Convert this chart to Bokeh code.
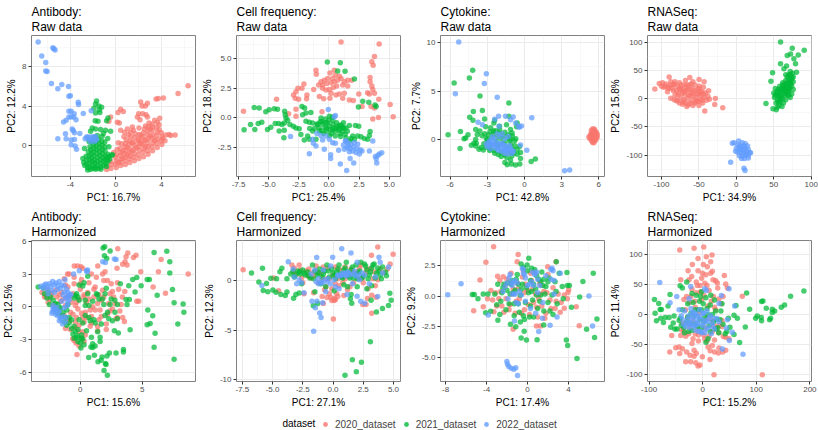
from bokeh.embed import file_html
from bokeh.resources import INLINE
from bokeh.plotting import figure
from bokeh.layouts import column, row
from bokeh.models import FixedTicker, Title, Legend, LegendItem, Range1d, Label

series_names = ["2020_dataset", "2021_dataset", "2022_dataset"]
series_colors = ["#F8766D", "#00BA38", "#619CFF"]

# ---- Antibody raw
ab_raw_2020 = [(6.33,6.07),(5.45,5.3),(4.16,4.83),(3.72,4.77),(3.52,4.73),(2.17,4.43),(2.76,4.3),(2.29,4.03),(2.58,4.03),(.41,3.7),(.18,3.37),(.65,3.47),(2,3.23),(2.35,3.23),(2.64,3.13),(1.88,2.9),(-.47,2.9),(-.62,2.47),(.12,2.37),(.29,2.3),(2.11,2.63),(2.76,2.9),(3.84,2.77),(3.4,2.57),(3.64,2.37),(2.9,2.3),(3.78,2.13),(1.44,1.9),(2.02,1.8),(1,1.7),(1.52,1.57),(.41,1.57),(.76,1.37),(1.29,1.37),(4.66,1.13),(5.19,1.07),(4.37,1.07),(4.81,1.03),
(-.82,-2.41),(-.75,-2.1),(-.44,-2.32),(-.38,-1.92),(-.46,-1.61),(.03,-2.22),(-.04,-1.87),(.05,-1.52),(-.06,-1.18),(.04,-.92),(.42,-2.02),(.37,-1.71),(.44,-1.38),(.38,-1.03),(.41,-.72),(.36,-.28),(.82,-1.91),(.78,-1.52),(.83,-1.19),(.76,-.83),(.81,-.48),(.79,-.12),(.84,.21),(1.21,-1.72),(1.17,-1.36),(1.24,-1.08),(1.18,-.71),(1.22,-.33),(1.16,.13),(1.23,.48),(1.62,-1.53),(1.57,-1.18),(1.63,-.82),(1.58,-.42),(1.61,.03),(1.56,.38),(1.64,.82),(2.02,-1.31),(1.97,-.92),(2.04,-.48),(1.98,-.12),(2.03,.32),(1.96,.71),(2.05,1.13),(2.42,-1.12),(2.37,-.68),(2.44,-.31),(2.38,.12),(2.43,.52),(2.36,.88),(2.41,1.31),(2.82,-.87),(2.77,-.52),(2.84,-.08),(2.78,.33),(2.83,.71),(2.76,1.12),(2.81,1.52),(2.86,1.92),(3.21,-.52),(3.16,-.12),(3.23,.28),(3.18,.72),(3.24,1.08),(3.17,1.53),(3.22,1.88),(3.62,-.18),(3.57,.22),(3.64,.61),(3.58,1.02),(3.63,1.38),(3.56,1.83),(4.02,.12),(3.97,.48),(4.04,.92),(3.98,1.31),(.2,-1.68),(.6,-1.28),(1.0,-.92),(1.4,-.58),(1.8,-.21),(2.2,.18),(2.6,.58),(3.0,.98),(.6,-.58),(1.0,-.18),(1.4,.28),(2.2,1.02),(2.6,-.12),(3.4,.52),
(2.5,1.7),(3,1.7),(1.7,1.2),(2,.5),(1.3,.9),(.9,.6),(.5,.2),(.1,-.4),(-.2,-.7),(4.3,.5),(4.1,.7),(3.8,1.6),(3.2,2.2),(2.6,2),(.2,.3),(.7,.9),(1.1,1.1)]
ab_raw_2021 = [(-1.7,4.53),(-1.79,4.23),(-1.5,4.03),(-1.26,3.9),(-1.94,3.8),(-1.47,3.63),(-1.41,3.37),(-1.79,3.3),(-.7,2.8),(-.82,2.53),(-1.82,2.53),(-1.58,2.47),(-2.08,1.8),(-1.79,1.7),(-1.35,1.63),(-.91,1.57),(-2.23,1.47),(-.47,1.47),
(-2.9,-1.3),(-2.82,-1.72),(-2.74,-2.02),(-2.48,-2.48),(-2.62,-1.08),(-2.58,-1.48),(-2.55,-1.88),(-2.48,-2.21),(-2.76,-.28),(-2.42,-.62),(-2.36,-1.02),(-2.33,-1.42),(-2.31,-1.78),(-2.28,-2.18),(-2.25,-2.42),(-2.36,.42),(-2.28,-.12),(-2.2,-.42),(-2.16,-.82),(-2.14,-1.22),(-2.08,-1.62),(-2.04,-1.98),(-2.02,-2.32),(-2.1,.38),(-1.98,.08),(-1.94,-.28),(-1.96,-.68),(-1.92,-1.08),(-1.88,-1.48),(-1.84,-1.82),(-1.82,-2.22),(-1.78,-2.4),(-1.9,.82),(-1.74,.42),(-1.72,.02),(-1.7,-.38),(-1.68,-.78),(-1.64,-1.18),(-1.62,-1.58),(-1.6,-1.98),(-1.56,-2.32),(-1.64,1.02),(-1.52,.62),(-1.48,.18),(-1.46,-.22),(-1.44,-.62),(-1.4,-1.02),(-1.38,-1.42),(-1.36,-1.82),(-1.32,-2.18),(-1.32,-2.4),(-1.22,.92),(-1.24,.42),(-1.22,.02),(-1.2,-.42),(-1.18,-.82),(-1.14,-1.22),(-1.12,-1.62),(-1.08,-2.02),(-.98,.38),(-.98,-.12),(-.96,-.52),(-.94,-1.02),(-.92,-1.42),(-.88,-1.82),(-.84,-2.12),(-.78,-1.22),(-.7,-.88),(-.72,-1.58),(-.62,-1.12),(-.56,-1.38),(-.4,-.98),(-.3,-.92),(-.72,.72),(-1.1,1.22),(-.62,-.12)]
ab_raw_2022 = [(-6.83,10.5),(-6.51,9.1),(-5.54,9.93),(-5.45,9.83),(-5.34,9.7),(-6.16,8.43),(-6.16,7.57),(-6.04,7.53),(-5.66,6.3),(-4.75,6.2),(-5.1,5.77),(-4.16,6.0),(-4.13,5.0),(-4.0,5.07),(-3.31,4.4),(-3.28,4.17),(-4.13,3.5),(-3.93,3.5),(-2.87,3.27),(-2.17,3.53),(-3.67,3.23),(-4.13,2.9),(-3.93,2.9),(-3.7,2.9),(-4.37,2.57),(-4.6,2.4),(-3.5,2.63),(-3.84,1.7),(-3.75,1.53),(-4.43,1.2),(-3.64,1.3),(-3.17,1.23),(-5.1,.7),(-4.37,.7),(-3.93,.57),(-3.64,.63),(-3.93,.1),(-3.58,-.03),(-3.46,-.37),(-2.58,.87),(-2.46,.87),(-2.23,.87),(-2,.9),(-1.79,.93),(-2.38,.63),(-2.08,.63),(-1.7,.63),(-2.7,.7),(-2.2,.4),(-1.85,.45)]

# ---- Cell frequency raw
cf_raw_2020 = [(1,6.43),(4.16,6.27),(3.77,5.21),(3.55,4.76),(3.66,4.46),(-1.08,4.04),(-1.05,3.7),(.08,3.82),(.44,4.04),(.53,3.62),(.86,3.54),(.3,3.34),(-.11,3.34),(-.39,3.2),(-.66,3.06),(-.86,2.79),(-.53,2.79),(-.19,2.92),(.17,2.98),(.44,3.06),(.72,3.2),(1,3.34),(1.27,3.06),(1.55,3.2),(1.88,3.2),(-2.08,2.87),(-2.24,2.51),(-2.58,2.51),(-2.74,2.23),(-2.94,1.95),(-2.8,1.67),(-2.52,1.59),(-1.83,1.95),(-1.86,1.62),(-1.27,2.42),(-.53,2.51),(-.25,2.37),(.03,2.42),(.36,2.59),(.64,2.7),(1.14,2.79),(1.55,2.7),(.17,2.09),(.58,1.95),(.86,2.03),(1.27,2.09),(-.8,1.81),(-.44,1.62),(.08,1.67),(1.14,1.67),(1.69,1.53),(2.02,1.48),(2.47,2.03),(3.2,2.14),(3.35,2.03),(3.41,3.43),(3.41,3.06),(3.55,2.7),(3.63,2.42),(3.77,2.09),(-4.35,1.59),(-7.09,.58),(-2.74,.75),(-3.35,.36),(-2.74,.14),(-.58,.53),(4.13,1.59),(5.07,1.14),(5.32,.11),(4.1,.03),(3.63,-.08),(2.74,.97),(3.49,.97),(3.77,.84)]
cf_raw_2021 = [(-.14,4.74),(.94,4.68),(.72,3.98),(1.33,3.96),(2.11,3.31),(2.8,1.42),(3.3,1.34),(3.82,1.11),(3.91,.97),(2.44,.92),(-2.24,.97),(-2.02,.84),(-6.2,.89),(-5.79,.84),(-5.24,.53),(-4.96,.7),(-4.54,.78),(-4.27,.75),(-7.04,-1),(-6.51,-.56),(-6.15,-.97),(-5.87,-.47),(-5.57,-.36),(-5.1,-.97),(-4.82,-.78),(-4.46,-.47),(-4.18,-.47),(-3.9,-.56),(-3.68,.58),(-3.63,.28),(-3.57,0),(-3.43,-.2),(-3.71,-.42),(-3.24,-.56),(-2.96,-.7),(-2.74,-.84),(-2.47,-.92),(-2.19,.28),(-1.91,-.28),(-1.63,-.36),(-1.36,-.42),(-1.91,.42),(-1.5,.47),(-3.74,-1.67),(-3.71,-1.03),(-4.13,-1.11),(-2.33,-1.39),(-2.05,-1.87),(-1.77,-1.53),(-1.63,-1.81),(-1.08,-1.81),(-1.36,-1.11),(-.94,-.56),(-.66,0),(-.3,-.08),(.03,.14),(.3,.08),
(-.82,-.82),(-.61,-1.08),(-.52,-.52),(-.33,-.78),(-.21,-1.12),(-.12,-.42),(.02,-.68),(.11,-.98),(.21,-1.31),(.33,-.55),(.41,-.83),(.52,-1.12),(.63,-.41),(.71,-.72),(.82,-1.02),(.92,-1.33),(1.02,-.6),(1.13,-1.12),(1.22,-.82),(1.33,-1.38),(1.52,-1.12),(.31,-.22),(-.45,-1.31),(.05,-1.48),(.52,-1.52),(.96,-1.58),(-.73,-.31),(1.83,-1.75),(2.11,-1.81),(2.38,-1.53),(2.66,-1.59),(2.94,-1.75),(3.21,-1.81),(3.35,-1.48),(3.41,-1.14),(1.69,-1.95),(1.41,-1.67),(1.97,-1.53),(2.47,-.7),(2.19,-.64),(1.69,-.64),(1.41,-.84),(1.14,-.84),(.86,-.64),
(-.6,-.3),(-.3,-.4),(0,-.2),(.3,-1),(.6,-.9),(-1,-.5),(-1.2,-.9),(-.2,-.9),(-.8,-1.1),(.9,-.9),(1.2,-.4),(-1.6,-.9)]
cf_raw_2022 = [(-3.19,-1.56),(-.06,.72),(.53,.22),(.44,.08),(-1.36,-1.81),(-1.3,-2.14),(-1,-1.31),(-.66,-1.48),(-.53,-1.87),(-.39,-2.65),(-1.08,-2.37),(-1.63,-3.04),(.14,-3.12),(.14,-3.43),(.94,-3.9),(1.47,-4.46),(1.75,-3.43),(2.05,-3.82),(.8,-2.73),(1.27,-2.65),(.03,-1.81),(.3,-2.09),(.53,-2.14),(-.25,-1.53),(1.41,-1.95),(1.63,-2.37),(1.83,-2.23),(2.11,-2.09),(2.38,-2.23),(1.69,-2.87),(1.97,-2.79),(2.24,-2.92),(2.52,-3.06),(2.74,-2.79),(2.58,-2.7),(3.35,-2.79),(3.63,-1.95),(3.85,-3.26),(4.07,-3.15),(4.18,-3.06),(4.38,-2.95),(3.96,-3.82),(3.92,-3.45),(1.36,-1.95),(1.55,-2.09),(1.75,-2.6),(2.05,-2.45),(1.5,-2.5),(2.3,-2.6),(1.2,-2.3)]

# ---- Cytokine raw
cy_raw_2020 = [(5.52,1.12),(5.65,1.08),(5.4,.98),(5.58,.92),(5.72,.88),(5.82,.72),(5.46,.78),(5.62,.7),(5.36,.6),(5.52,.58),(5.74,.55),(5.88,.52),(5.3,.42),(5.48,.4),(5.64,.38),(5.8,.34),(5.2,.28),(5.38,.22),(5.56,.2),(5.72,.16),(5.86,.22),(5.28,.12),(5.46,.05),(5.62,.02),(5.76,.03),(5.4,-.08),(5.55,-.14),(5.68,-.1),(5.5,-.28),(5.6,-.3)]
cy_raw_2021 = [(-4.18,7.13),(-4.45,6.35),(-5.68,5.84),(-3.59,4.49),(-1.26,3.78),(-3.4,3.0),(-4.13,2.9),(-4.42,2.3),(-4.16,2),(-1.26,2.4),(-6.17,.5),(-5.17,.84),(-4.56,.5),(-4.75,.17),(-4.88,.1),(-5.2,-.91),(-4.29,-.57),(-3.94,1.05),(-3.81,.54),(-3.94,.03),(-3.89,-.37),(-4.08,-.37),(-3.94,-.64),(-3.67,-.98),(-3.32,-1.05),(-3.22,2.13),(-3.14,1.32),(-2.73,1.22),(-2.41,1.99),(-2.47,1.72),(-2.01,1.39),(-1.45,1.55),(-1.13,1.05),(-.64,1.32),(-.59,1.72),(.88,-1.99),(.54,-2.23),(-.32,-1.93),(-.38,-2.5),(-.72,-2.6),(-1.05,-2.5),(-1.39,-2.57),(-1.58,-2.33),(-1.13,-2.09),(-.32,-1.32),(-.59,-1.49),(-.86,-1.39),
(-3.42,.42),(-3.21,.62),(-3.08,.12),(-2.92,.48),(-2.78,.82),(-2.62,.22),(-2.48,.58),(-2.32,.92),(-2.18,.31),(-2.02,.68),(-1.88,.12),(-1.72,.42),(-1.58,.78),(-1.42,.21),(-1.28,.5),(-1.12,.08),(-.98,.38),(-3.28,-.42),(-3.12,-.78),(-2.92,-.22),(-2.78,-.92),(-2.62,-.48),(-2.45,-1.12),(-2.28,-.18),(-2.12,-.72),(-1.92,-1.28),(-1.75,-.42),(-1.62,-1.58),(-1.42,-.82),(-1.25,-1.32),(-1.1,-.52),(-.92,-1.02),(-.78,-.62),(-2.12,-1.52),(-1.88,-1.72),(-1.42,-1.82),(-1.02,-1.68),
(-3,0),(-2.5,.9),(-2.9,-.5),(-3.5,-.8),(-2,1),(-1.6,-.3),(-1.2,-.1),(-1,.7),(-.8,-.1),(-.6,-1),(-.4,-.7),(-3.6,.9),(-2.2,-.6),(-2.4,-1.4),(-1.5,-1.1),(-2.8,-1.1),(-.7,.1)]
cy_raw_2022 = [(-5.31,10.03),(-3.08,6.79),(-3.24,5.78),(-5.58,4.73),(-2.2,4.36),(-2.09,2.4),(-1.53,2.4),(-.91,2.33),(.59,2.26),(-3.75,1.79),(-3.4,1.55),(-2.4,2.1),(-1.13,2.06),(-.72,1.72),(-.46,1.39),(-.24,1.42),(-.42,1.28),(-.32,-.54),(.19,-1.08),(3.24,-3.18),(3.65,-3.11),(-2.06,1.39),(-2.2,.61),(-1.8,.61),
(-3.08,-.42),(-3.02,-.72),(-2.88,-.28),(-2.82,-.62),(-2.72,-.92),(-2.58,-.12),(-2.52,-.52),(-2.42,.12),(-2.32,-.82),(-2.22,-.28),(-2.12,-1.08),(-2.05,-.52),(-1.92,-.82),(-1.88,-1.18),(-1.78,-.38),(-1.68,-.98),(-1.62,-1.38),(-1.52,-.62),(-1.48,-1.12),(-1.38,-1.48),(-1.32,-.82),(-1.22,-1.22),(-1.12,-.92),(-1.02,-1.42),(-1.58,.12),(-1.32,.32),
(-2.8,-.1),(-2.7,-.5),(-2.4,-.5),(-2.2,-.9),(-1.9,-.4),(-1.7,-.6),(-1.6,-1.1),(-1.4,-1.1),(-1.2,-.6),(-1,-1.1),(-.9,-1.2),(-2.6,.3),(-2,.3)]

# ---- RNASeq raw
rn_raw_2020 = [(-108.9,16.9),(-103,26.7),(-98.7,27.9),(-89.8,38.4),(-87.6,29.7),(-83,26),(-62.2,37.2),(-49.8,33.7),(-43.1,29.7),(-28,0),(-28.9,-10.5),(-18.2,-16.3),(-42.2,-22.1),(-66.2,-14),(-87.6,.6),(-83,-2),
(-95,22),(-91,18),(-88,24),(-84,14),(-82,6),(-79,22),(-77,10),(-76,28),(-74,2),(-73,16),(-71,-6),(-70,24),(-69,8),(-68,32),(-66,0),(-65,15),(-64,-11),(-63,24),(-62,6),(-60,-3),(-59,18),(-58,30),(-57,10),(-56,-8),(-55,24),(-54,2),(-52,16),(-51,-5),(-50,8),(-49,22),(-48,-2),(-46,12),(-45,-8),(-44,20),(-43,2),(-41,10),(-40,-3),(-38,4),(-37,14),(-36,-1),(-72,-10),(-78,-4),(-60,10),(-67,20),(-75,18),(-70,12),(-53,-3),(-47,5),
(-100,22),(-97,20),(-94,26),(-92,12),(-90,20),(-86,18),(-84,24),(-82,30),(-80,14),(-78,6),(-76,18),(-74,24),(-72,10),(-70,-2),(-68,14),(-66,24),(-64,6),(-62,16),(-60,26),(-58,4),(-56,14),(-54,-6),(-52,8),(-50,18),(-48,12),(-46,-3),(-44,8),(-80,-4),(-76,-8),(-68,-8),(-62,-8),(-58,-12),(-50,-12)]
rn_raw_2021 = [(59.1,100),(74.7,89),(90.7,85.5),(68,76.2),(72.4,79),(82.7,77.3),(76.9,70.3),(59,61.6),(67.1,57.6),(79.1,61.6),(63.6,52.9),(80.4,46.5),(48.4,45.9),(46.2,30.8),(39.6,-8.7),(48.9,-18),(53.3,-19.8),(54.7,-15.1),
(72,48),(75,45),(70,42),(74,38),(68,38),(72,32),(76,30),(66,32),(70,26),(74,22),(62,28),(67,22),(71,18),(76,16),(58,22),(63,20),(66,14),(70,12),(74,8),(52,18),(56,16),(60,12),(64,8),(68,6),(72,2),(50,10),(54,8),(58,4),(62,0),(66,-2),(51,2),(55,-2),(59,-6),(63,-8),(53,-8),(57,-12),(61,-14),(69,14),(65,26),(60,18),(73,26),
(56,6),(60,6),(62,14),(66,8),(64,18),(68,16),(70,20),(72,28),(74,34),(64,22),(68,28),(58,14),(54,12),(60,2),(66,12),(62,24),(70,34),(66,42),(72,42),(76,38),(52,6),(58,-2),(56,-6),(70,6)]
rn_raw_2022 = [(-7.6,-112.8),(10.2,-123.3),(11.6,-127.3),(3.1,-75),(-3.1,-77.9),(-5.3,-79),(8,-78),(12,-80),(2,-82),(6,-84),(10,-84),(15,-84),(0,-88),(4,-90),(8,-90),(12,-88),(16,-90),(2,-95),(6,-96),(10,-96),(14,-94),(18,-96),(4,-101),(8,-102),(12,-100),(16,-100),(19,-96),(7,-106),(11,-106),
(10,-90),(4,-85),(13,-98),(-1,-93),(7,-92),(16,-105)]

# ---- Antibody harmonized
ab_har_2020 = [(3.03,5.33),(3.84,4.94),(4.51,4.73),(4.3,4.52),(3.7,4.58),(3.62,4.13),(3.78,3.83),(3.43,3.89),(2.97,3.52),(1.41,3.73),(4.89,3.22),(6.32,3.22),(8.73,3.01),(6.54,4.34),(6.89,1.23),(5.89,1.81),(4.57,.51),(4.73,.51),(-.49,3.73),(-.22,3.73),(.05,3.67),(.19,3.52),(-1.03,3.01),(-.9,3.01),(-1.3,2.56),(-.27,-4.4),(-.62,-2.95),(-.35,-3.34),(3.57,-1.36),(3.43,-.99),(3.0,-.99),
(-3.1,1.3),(-2.9,.9),(-2.7,1.6),(-2.5,.7),(-2.3,1.1),(-2.1,.2),(-1.9,.9),(-1.8,-.4),(-1.6,.5),(-1.5,1.3),(-1.3,-.8),(-1.2,.1),(-1.1,.9),(-1,1.8),(-.9,-1.3),(-.8,-.5),(-.7,.4),(-.6,1.2),(-.5,2.1),(-.4,-1.9),(-.3,-1),(-.2,-.2),(-.1,.7),(0,1.6),(.1,2.5),(.2,-2.3),(.3,-1.4),(.4,-.5),(.5,.4),(.6,1.3),(.7,2.2),(.8,-1.8),(.9,-.9),(1,0),(1.1,.9),(1.2,1.8),(1.3,2.7),(1.4,-2.2),(1.5,-1.2),(1.6,-.3),(1.7,.6),(1.8,1.5),(1.9,2.4),(2,3.2),(2.1,-1.6),(2.2,-.7),(2.3,.3),(2.4,1.2),(2.5,2.1),(2.6,-.2),(2.7,.9),(2.9,-1.1),(3.1,1.6),(3.3,.2),(3.6,1.4),(1.8,3),(.9,3),(.1,-2.9),(-1.2,-2),(.3,.9),(-.4,.1),(.8,-.3),(1.4,.3),(.2,-1),(-.1,-1.7),
(-2.8,1),(-2.6,.4),(-2.4,1.3),(-2.2,.1),(-2,1.5),(-1.9,-.3),(-1.7,1.1),(-1.5,-.9),(-1.4,.7),(-1.2,2),(-1,-1.1),(-.8,.9),(-.6,-.7),(-.5,2.7),(-.4,-1.4),(-.3,.4),(-.1,-2.3),(0,2.1),(.1,-.6),(.3,1.1),(.4,-2.6),(.5,-1),(.7,.7),(.9,-1.5),(1.1,1.6),(1.2,-.3),(1.4,-1.8),(1.5,1.1),(1.7,-.9),(1.9,.9),(2.1,-2.1),(2.2,2.4),(2.4,-.4),(2.6,1.4),(2.8,.3),(3,2.2),(3.2,-.4),(3.4,.9),(-.8,-2.1),(-.5,-3.1),(-.1,-3.6),(.3,-3.2)]
ab_har_2021 = [(1.84,5.39),(1.97,5.51),(1.95,4.67),(2.14,4.43),(2.41,5.12),(5.97,4.97),(7,5.09),(7.24,4.13),(7.24,3.1),(5.59,2.5),(5.41,2.5),(4.57,2.68),(4.24,2.5),(4.92,1.93),(4.43,1.36),(6.22,1.05),(7.46,1.57),(7.59,.36),(8.32,.24),(8.38,-.51),(7.89,-1.6),(5.46,-.3),(5.86,-.84),(5.41,-1.66),(5.65,-1.54),(6.05,-2.44),(5.97,-3.73),(7.59,-4.82),(3.49,-3.92),(3.49,-4.16),(2.89,-4.25),(2.35,-4.25),(2.19,-6.3),(1.92,-5.87),(2.08,-5.3),(2.03,-5.22),(2.16,-4.52),(1.76,-4.61),(1.43,-5.06),(1.68,-4.91),(.68,-4.67),(1.14,-4.46),(2.76,-2.2),(3.08,-2.41),(4.03,-2.11),(.05,-3.8),(.86,-3.7),(1,-3.75),(3.97,.66),(3.78,.21),(3.7,.66),(3.92,1.93),(3.24,2.11),(-3.41,1.81),
(-3,1.75),(-2.7,.8),(-2.5,.2),(-2.2,.6),(-2,.3),(-1.8,.2),(-1.6,-.1),(-1.7,-.7),(-1.4,-.5),(-1.2,-1),(-1.1,-.3),(-1,.2),(-.9,-1.5),(-.7,-1.2),(-.6,-2.5),(-.5,-1.8),(-.3,-2.8),(-.2,-2.1),(-.2,-3.2),(-.1,-1.2),(.1,-2.6),(.2,-1.5),(.2,-3),(.4,.1),(.5,-2.2),(.6,1.2),(.7,.1),(.8,-1.3),(.9,-2.8),(1,-3.4),(1.2,-3.6),(1.1,-1.2),(1.3,1.2),(1.4,-2.3),(1.5,.7),(1.6,-3.2),(1.7,-1.6),(1.9,.2),(2,-.8),(2.1,1.7),(2.3,-1.1),(2.5,.7),(2.8,-.5),(3,-1.1),(-.5,.8),(-.3,1.2),(.3,2.2),(.6,2.8),(-.1,.6),(.4,-.8),
(-2.9,1.2),(-2.6,1.3),(-2.4,.9),(-2.1,-.2),(-1.9,-.5),(-1.7,-.2),(-1.5,-.9),(-1.3,-1.4),(-1.1,-1.7),(-.9,-1),(-.7,-2),(-.5,-2.9),(-.4,-2.3),(-.2,-2.7),(0,-3.3),(.1,-2.9),(.3,-3.5),(-.4,1),(-.1,2),(.2,1.9),(.4,.6),(.7,-1),(1,.5),(1.2,-1.5),(1.4,1.1),(1.6,-2.8),(1.8,.7),(2,1.2),(2.2,-.5),(2.4,.2),(2.6,-1.3),(2.8,.6),(3,.2),(-.2,.9)]
ab_har_2022 = [(2.76,4.37),(2.89,4.34),(1.81,4.13),(2.03,4.07),(.59,3.37),(-.08,3.31),(-.54,3.01),(-1.24,2.47),(-1.7,2.32),(-2.24,2.32),(-2.78,2.08),(-3.19,1.87),(-1.97,2.17),(-2.38,1.87),(-2.65,1.57),(-1.84,1.57),(-1.3,1.36),(-.76,1.11),(-.89,.66),(-1.03,.36),(-1.3,-.09),(-1.7,-.39),(-2.11,-.24),(-2.24,-.45),(-1.84,-.84),(-1.43,-1.6),(-1.55,-1.2),(.5,3.3),(.55,3.2),(-1.05,.8),(-1.4,1.1),(-2.9,2.0),(-3,1.7),(-2.1,1.3),(-1.9,-.05),(-2.2,-.15),(-1.15,-1),(-1.05,.1),(-.95,1.0),(-1.5,2),
(-2.7,1.8),(-2.5,2.1),(-2.1,2.0),(-1.8,1.9),(-1.6,1.7),(-1.3,1.9),(-1.1,1.6),(-1,1.3),(-.9,1.1),(-1.2,.8),(-1.5,.5),(-2.2,.1),(-2,-.3),(-2.3,-.6),(-2,-.7),(-1.8,-.5),(-1.6,-1),(-1.4,-.9),(-1.7,-1.3),(-1.2,-1.4),(-2.6,1.2),(-2.3,1.5)]

# ---- Cell frequency harmonized
cf_har_2020 = [(3.7,3.43),(4.97,2.7),(3.18,2.6),(4.72,1.7),(-7.43,1.13),(.03,-3.87),(3.2,-3.3),(2.46,-2.4),(2.73,-2.4),(3.2,-1.47),(2.85,-1.8),(3.56,-1.67),
(-3.4,1.6),(-3.2,1.3),(-3,.7),(-2.8,1.6),(-2.6,.3),(-2.4,-1.3),(-2.2,1),(-2,1.2),(-1.8,.3),(-1.6,-1.2),(-1.4,1.5),(-1.2,-.2),(-1,.8),(-.9,-1.6),(-.8,1.4),(-.6,-.6),(-.5,.2),(-.4,1.3),(-.2,-1.7),(-.1,-.8),(0,.6),(.1,-2),(.2,1.4),(.3,-1.3),(.4,.2),(.5,-.5),(.6,1.1),(.8,-.2),(1,1.4),(1.2,-.9),(1.3,.5),(1.5,1.2),(1.7,-.2),(1.9,.9),(2.1,.2),(2.3,1.6),(2.5,-.2),(2.7,.8),(2.9,-.8),(3.1,1.2),(3.3,.2),(3.5,-.5),(3.9,1.2),(4.2,.8),(-4.9,.3),(-4.5,-1),(-.8,-2.3),(-.3,-1.3),(-1.6,.5),
(-3.3,.9),(-2.7,1.1),(-2.5,-.2),(-2.1,.5),(-1.7,.8),(-1.3,.9),(-.9,.2),(-.7,-.9),(-.3,.2),(.2,-.3),(.4,-1.6),(.7,.5),(.9,-1.5),(1,.2),(1.4,-.6),(1.6,.9),(2.2,1.3),(2.4,.3),(2.8,1.2),(3.4,.9),(3.7,.1),(4.5,1.2),(.1,-1.8),(-.5,-1.7),(-.1,-2),(.2,-1.9)]
cf_har_2021 = [(-5.83,1.27),(-6.74,.8),(-6.13,-.13),(-5.77,-.97),(-5.39,-1.1),(-5.5,-.27),(-4.97,-.93),(-4.72,-1.17),(-4.31,-1.4),(-3.95,-1.5),(-3.81,-1.13),(-5.14,.27),(-4.67,.2),(-4.39,.93),(-4.23,1.27),(-3.81,.2),(-3.26,-1.77),(-3.07,-1.4),(-2.79,-1.23),(-1.63,-2.53),(-1.27,-2.3),(1.55,-2.27),(1.44,-1.83),(3.09,-6.2),(1.6,-8.03),(2.35,-8.27),(1.93,-9.23),(.99,-9.6),(3.59,-3.17),(4.09,-2.8),(4.59,-2.5),(4.81,-1.97),(4.7,-1.27),(3.15,-1.97),(4.42,.53),
(-3.5,.7),(-3.3,1),(-3.1,.6),(-2.9,1),(-2.7,.7),(-2.5,1.1),(-2.3,.6),(-2.1,.9),(-1.9,.3),(-1.7,1.6),(-1.5,1),(-1.3,.6),(-1.1,1.2),(-.9,.4),(-.7,1),(-.5,1.6),(-.3,.4),(-.1,1.2),(.1,.5),(.3,.9),(.5,1.6),(.7,.4),(.9,1.1),(1.1,1.9),(1.3,.5),(1.5,1.1),(1.7,.3),(1.9,1.6),(2.1,.8),(2.3,1.9),(2.5,.5),(2.7,1.5),(2.9,.2),(3.1,.9),(3.3,1.6),(3.5,.3),(3.7,1.3),(3.9,.6),(4.1,1.4),(4.35,.9),(-1.5,-1.1),(.1,-1),(.9,-.4),(1.5,-1.4),(2,-.6),(3.2,-.5),
(-3.2,.4),(-2.8,.9),(-2.4,.8),(-2,.5),(-1.6,.2),(-1.2,.8),(-.8,.7),(-.4,1),(0,.8),(.2,.2),(.4,1.2),(.6,.7),(.8,.3),(1,1.3),(1.2,.9),(1.4,.3),(1.6,1.4),(1.8,.7),(2,.2),(2.2,1),(2.4,.3),(2.6,1.7),(2.8,1.1),(3,.6),(3.2,1.3),(3.4,1.7),(3.6,.8),(3.8,1),(4,.2),(-2.6,-.3),(-1,-.3),(-.6,-.6),(1.2,-.6),(2.8,-.8)]
cf_har_2022 = [(.72,3.27),(1.49,2.83),(-.03,2.4),(-1.35,2.37),(-3.7,1.93),(-5.88,-.47),(-1.6,-5.13),(-.99,-3.73),(-1.1,-3.27),(-1.46,-2.73),(-1.74,-2.07),(-1.33,-2.07),(-.86,-2.23),(2.29,-2.07),(2.62,-2.27),(3.7,-1.6),(1.99,-1.57),(1.16,-1.4),
(-3.3,1.2),(-2.8,.1),(-2.4,-1.2),(-1.2,.2),(-1.0,-.2),(-.8,1.1),(-.6,-1.1),(-.4,.2),(-.2,1.5),(.2,-.6),(.4,.5),(.6,.5),(.8,.6),(1,.7),(1.2,.9),(1.4,.6),(1.6,-.3),(1.8,1),(2,1.9),(2.2,.1),(2.6,.6),(3,-.3),(3.5,.4),(3.8,2.4),(3.9,1.9),(4.1,.8),(4.6,1.4),(-.2,-.3),(.5,-.8),(-1.2,-.3),
(-3.2,.4),(-3,-.3),(-2.6,-.2),(-1.8,.7),(-1.5,1.1),(-.9,-.2),(-.5,-.1),(.1,.1),(.4,.6),(.7,.7),(.9,.8),(1.1,.5),(1.3,.8),(1.7,.7),(1.9,.5),(2.1,.6),(2.4,.8),(-.7,.1),(-1.4,-.1)]

# ---- Cytokine harmonized
cy_har_2020 = [(-3.31,4.08),(-.91,3.43),(-4.06,2.81),(-1.01,2.84),(2.79,2.84),(1.98,2.43),(-2.92,1.65),(-2.37,1.62),(-4.64,1.35),(-3.57,.49),(-5.26,-1.19),(-4.32,-.86),(-3.28,-1.27),(-1.4,-2.7),(5.06,-2.41),(4.77,-.86),(3.6,-.97),(4.03,.54),(3.96,.32),(.88,-2.43),(1.27,-2.43),
(-3.9,-.2),(-3.4,-.3),(-3,-.8),(-2.6,.4),(-2.3,-1.3),(-2,1.4),(-1.7,-.7),(-1.4,.6),(-1.2,-1.4),(-1,1.1),(-.8,-.2),(-.5,1.6),(-.3,-1.1),(0,.5),(.2,-1.5),(.4,1.3),(.6,-.5),(.8,.2),(1,-1.7),(1.2,1.1),(1.4,-.8),(1.6,.4),(1.8,-1.4),(2,1.8),(2.2,-.3),(2.5,.7),(2.7,-1),(3,.2),(3.2,-1.3),(3.6,.1),(1.2,.2),(-2.7,1.3),(-2.1,-.2),(-.2,1),(.6,2),
(-3.1,.3),(-2.8,-.2),(-2.5,-.8),(-2.2,.9),(-1.8,-1.1),(-1.5,.2),(-1.1,-.4),(-.9,.6),(-.6,-1.4),(-.3,.3),(.1,-.7),(.3,1.9),(.5,.6),(.9,-.9),(1.1,-.2),(1.3,.9),(1.7,-1.8),(1.9,.3),(2.3,-1),(2.8,-.4),(3.3,-.5),(3.9,-.2),(-1.6,1.9),(-.4,2.1)]
cy_har_2021 = [(6.43,1.89),(5.42,1.22),(3.86,1.95),(2.82,2.84),(.13,3.14),(-.62,2.65),(-.03,2.57),(-5.39,.16),(-5.2,.16),(-4.32,.19),(-4.84,-.19),(-3.86,.19),(6.79,-1.86),(5.78,-2.7),(6.56,-3.38),(3.8,-3.59),(3.93,-4.05),(4.84,-5.11),(.94,-3.57),(-.1,-3.59),(-.62,-3.43),(-.32,-2.86),(-1.14,-2.49),(-1.66,-2.3),(-2.89,-1.97),(1.59,-2.35),(-4.09,-1.35),(-3.6,-1.22),
(-3.2,.2),(-2.9,1),(-2.6,-.4),(-2.4,.7),(-2.1,-1.1),(-1.9,1.1),(-1.7,.2),(-1.5,1.3),(-1.3,-.6),(-1.2,.5),(-1,1.8),(-.8,-1.3),(-.7,.1),(-.5,1),(-.3,-1.9),(-.2,-.5),(0,2.1),(.1,.3),(.2,-1.7),(.3,1.3),(.5,-.3),(.7,2.2),(.8,.6),(1,-1),(1.1,1.4),(1.3,.1),(1.4,2),(1.6,-1.2),(1.8,.8),(2,-.5),(2.1,1.5),(2.4,.1),(2.7,1.2),(2.9,-.6),(3.1,1.9),(3.5,-.2),(3.9,.9),(4.1,.9),(4.3,-.9),(5.1,-.05),(1.3,1.2),(.6,1),(-.9,1),(2.5,-1.5),
(-3,-.7),(-2.7,-1.5),(-2.5,.3),(-2.3,1),(-2,.5),(-1.8,-.6),(-1.6,1),(-1.4,.3),(-1.1,1.4),(-.9,-.6),(-.6,.6),(-.4,-1.6),(-.1,.7),(.3,-.8),(.4,.4),(.6,-1.7),(.9,.1),(1.2,-.4),(1.5,.9),(1.7,.2),(2,1.2),(2.2,-1.2),(2.8,.4),(3.4,.8),(-.4,2.4),(.4,2.3),(.9,1.7),(1.6,1.4),(-1.3,-1.6),(-.7,-2.1)]
cy_har_2022 = [(-7.79,.14),(-6.49,1.03),(-2.01,-5.35),(-1.95,-5.59),(-1.82,-5.76),(-1.59,-5.92),(-1.33,-6),(-1.14,-5.86),(-.97,-6.51),(6.01,.03),(6.36,-2.43),(2.89,-1.7),(1.1,-2.89),(2.21,-2.38),(-3.83,-1.54),(1.46,-1.81),(-1.27,-2.03),
(-2.4,.4),(-2.2,.8),(-1.9,-.2),(-1.7,1.8),(-1.5,.9),(-1.3,.2),(-1.1,-.5),(-1,1.1),(-.8,.4),(-.4,2.2),(-.3,1.8),(-.2,1.5),(.2,1),(.4,1.2),(.6,.9),(.7,1.8),(.8,-1.4),(.9,2),(1,.3),(1.5,-.5),(1.8,1.7),(2.3,2.2),(2.5,2.1),(2.6,1.3),(3.2,1.9),(2.6,.2),(-1.2,.2),(-.9,-.6),
(-2,1.1),(-1.8,1.5),(-1.6,1.1),(-1.4,1.2),(-1.2,1.3),(-1.5,.2),(-.6,.1),(-.5,2.3),(-.4,1.9),(0,.9),(.5,2),(.8,1.9),(1,1.4),(1.2,.9),(2.3,1.4),(2.4,2.3),(-.2,-.4),(.3,-1)]

# ---- RNASeq harmonized
rn_har_2020 = [(-42.9,107),(-16.1,109.8),(1.9,112),(17.4,98.9),(-8.7,92.9),(-19.3,83.2),(6.8,95.7),(14.9,87.5),(-27.3,72.8),(1.2,83.2),(-8.7,72.8),(8.7,79.3),(-.6,68.5),(14.9,68.5),(40.4,64.7),(-41,57.6),(-20.5,63),(-25.5,57.6),(24.2,56),(27.3,52.2),(42.9,50.5),(73.9,30.4),(46,44),(19.3,57.6),
(-61.5,-62),(-50.3,-54.9),(-44.1,-53.8),(-37.9,-56.5),(-42.9,-64.7),(-31.7,-78.3),(-22.4,-78.3),(-13,-79.9),(-23.6,-67.4),(-16.1,-59.2),(-16.1,-69),(-8.7,-85.3),(-5,-83.7),(-.6,-70.1),(13.7,-74.5),(9.9,-53.8),(18,-51.1),(30.4,-55.4),(29.2,-63.6),(37.3,-62),(42.9,-59.2),(21.1,-100),(111.2,-100),(-57.8,-34.8),(-41,-34.8),(42.9,-37.5),(38.5,-36.4),(49.1,-40.2),(-31.7,-35.9),
(-30,30),(-20,42),(-12,36),(-5,48),(4,52),(12,40),(20,30),(28,44),(-35,-28),(-26,-32),(-18,-40),(-8,-44),(4,-40),(12,-36),(22,-42),(30,-30),(-25,20),(-14,12),(-2,24),(10,14),(22,12),(34,18),(-32,8),(-18,-10),(-6,2),(8,-6),(20,-18),(36,-10),(-38,-14),(-24,-22),(-10,-24),(4,-22),(18,-28),(30,-18),(6,66),(-2,60),(18,72),(-12,54),
(-35,25),(-28,-5),(-22,30),(-15,22),(-10,48),(-4,38),(2,32),(8,48),(16,22),(24,8),(30,26),(38,30),(36,-20),(26,-22),(16,-8),(-14,-32),(-26,-16),(-40,-25),(-8,-34),(2,-34),(-20,-48),(8,-44),(-12,-64),(-30,-62),(22,-62),(14,-60)]
rn_har_2021 = [(188.8,39.1),(164,30.4),(152.8,15.8),(146.6,12),(134.2,6),(129.8,8.7),(129.8,3.3),(118.6,10.3),(112.4,22.3),(109.9,21.7),(126.7,-6),(124.8,-8.7),(109.9,-10.3),(109.3,-4.9),(101.9,-2.2),(98.8,-6),(87.6,8.7),(82,35.9),(79.5,-20.7),(68.9,-46.2),(62.1,15.2),(58.4,-1.1),(64.6,-6),(50.9,-21.2),(58.4,-33.2),
(-90,25),(-82,18.5),(-88.8,2.2),(-86.3,-10.3),(-79.5,8.2),(-77,8.2),(-78.3,-6),(-73.3,-13),(-70,-4.9),(-60.9,33.2),(-64.6,14.1),(-59.6,-21.2),(-62.7,-4.9),(-53.4,-2.2),(-42.2,47.8),(-37.9,44),(-29.8,53.8),
(-48,-24),(-42,-6),(-38,8),(-35,-22),(-30,-12),(-26,-28),(-22,2),(-18,20),(-15,-16),(-12,32),(-8,8),(-5,-8),(-2,-22),(1,18),(4,-4),(8,10),(12,-18),(15,32),(18,0),(22,24),(26,-8),(30,-30),(34,6),(38,-16),(42,-32),(-28,18),(-4,30),(14,-28),(24,-24),(-16,-2),(6,-46),(10,-40),
(-44,-10),(-40,-18),(-34,-30),(-28,-4),(-24,-14),(-20,-26),(-14,8),(-10,-20),(-6,22),(-2,8),(2,-12),(6,28),(10,0),(14,16),(20,-12),(24,6),(28,-22),(36,18),(32,-8),(45,-28),(48,-6),(-20,35),(-2,38),(-52,-24),(-55,-14)]
rn_har_2022 = [(-80.1,53.3),(75.2,-65.8),(36.6,-57.1),(49.7,-42.9),(49.1,42.9),(46,-8.7),(59.6,14.1),(34.8,31.5),(30.4,18.5),(3.7,42.9),(6.8,39.7),(-22.4,46.7),(-60.9,19.6),(-48.4,29.9),(-25.5,26.1),(55.3,-29.3),(44.1,-22.3),
(-44,8),(-38,-8),(-34,6),(-30,-14),(-26,-2),(-24,-22),(-22,10),(-20,-8),(-18,-18),(-16,4),(-14,-26),(-12,-10),(-10,-2),(-8,-16),(-6,8),(-4,-28),(-2,-8),(0,-18),(2,2),(4,-30),(6,-10),(8,6),(10,-22),(12,-6),(16,-32),(18,-14),(22,-24),(26,-6),(30,-12),(-32,-20),
(-40,-2),(-36,-16),(-28,-8),(-22,-14),(-18,-4),(-14,-18),(-10,-14),(-6,-4),(-2,-30),(2,-14),(6,-24),(10,-12),(14,-2),(18,-20),(-12,0),(-20,2),(20,-6),(-26,-16),(0,2),(-8,-28)]

panel_titles = ["Antibody:\nRaw data", "Cell frequency:\nRaw data", "Cytokine:\nRaw data", "RNASeq:\nRaw data",
                "Antibody:\nHarmonized", "Cell frequency:\nHarmonized", "Cytokine:\nHarmonized", "RNASeq:\nHarmonized"]
x_labels = ["PC1: 16.7%", "PC1: 25.4%", "PC1: 42.8%", "PC1: 34.9%", "PC1: 15.6%", "PC1: 27.1%", "PC1: 17.4%", "PC1: 15.2%"]
y_labels = ["PC2: 12.2%", "PC2: 18.2%", "PC2: 7.7%", "PC2: 15.8%", "PC2: 12.5%", "PC2: 12.3%", "PC2: 9.2%", "PC2: 11.4%"]
x_ranges = [(-7.41, 6.98), (-7.67, 5.93), (-6.78, 6.46), (-118.7, 100.4), (-3.95, 9.32), (-7.98, 5.58), (-8.5, 7.53), (-103, 203)]
y_ranges = [(-3.13, 11.17), (-4.96, 6.99), (-3.78, 10.71), (-137.8, 111.6), (-6.87, 6.08), (-10.23, 4.1), (-7.0, 4.59), (-111, 122.8)]
x_ticks = [[-4, 0, 4], [-7.5, -5, -2.5, 0, 2.5, 5], [-6, -3, 0, 3, 6], [-100, -50, 0, 50, 100], [0, 5], [-7.5, -5, -2.5, 0, 2.5, 5], [-8, -4, 0, 4], [-100, 0, 100, 200]]
y_ticks = [[0, 4, 8], [-2.5, 0, 2.5, 5], [0, 5, 10], [-100, -50, 0, 50, 100], [-6, -3, 0, 3, 6], [-10, -5, 0], [-5, -2.5, 0, 2.5], [-100, -50, 0, 50, 100]]
x_tick_text = [["-4", "0", "4"], ["-7.5", "-5.0", "-2.5", "0.0", "2.5", "5.0"], ["-6", "-3", "0", "3", "6"], ["-100", "-50", "0", "50", "100"], ["0", "5"], ["-7.5", "-5.0", "-2.5", "0.0", "2.5", "5.0"], ["-8", "-4", "0", "4"], ["-100", "0", "100", "200"]]
y_tick_text = [["0", "4", "8"], ["-2.5", "0.0", "2.5", "5.0"], ["0", "5", "10"], ["-100", "-50", "0", "50", "100"], ["-6", "-3", "0", "3", "6"], ["-10", "-5", "0"], ["-5.0", "-2.5", "0.0", "2.5"], ["-100", "-50", "0", "50", "100"]]
panel_data = [
    [ab_raw_2020, ab_raw_2021, ab_raw_2022], [cf_raw_2020, cf_raw_2021, cf_raw_2022],
    [cy_raw_2020, cy_raw_2021, cy_raw_2022], [rn_raw_2020, rn_raw_2021, rn_raw_2022],
    [ab_har_2020, ab_har_2021, ab_har_2022], [cf_har_2020, cf_har_2021, cf_har_2022],
    [cy_har_2020, cy_har_2021, cy_har_2022], [rn_har_2020, rn_har_2021, rn_har_2022],
]
FONT = "Liberation Sans"
col_geom = [(205, 31, 10), (205, 31, 10), (202, 30, 8), (206, 35, 7)]
OVER = 50


def minors(t, lo, hi):
    step = t[1] - t[0]
    out = [t[0] - step / 2] + [a + step / 2 for a in t]
    return [m for m in out if lo <= m <= hi]


def make_panel(i):
    w, L, R = col_geom[i % 4]
    extra = OVER - L
    p = figure(width=w + extra, height=205, output_backend="svg", toolbar_location=None,
               x_range=Range1d(*x_ranges[i]), y_range=Range1d(*y_ranges[i]),
               min_border_left=OVER, min_border_right=R, min_border_top=35, min_border_bottom=27,
               margin=(0, 0, 0, -extra), border_fill_color=None)
    p.outline_line_color = "#808080"
    p.outline_line_width = 1
    p.background_fill_color = "white"
    p.add_layout(Title(text=panel_titles[i], text_font=FONT, text_font_size="12px", text_font_style="normal",
                       text_color="black", text_line_height=1.1, standoff=3, offset=0), "above")
    for ax, ticks, labs, lab, rng in ((p.xaxis[0], x_ticks[i], x_tick_text[i], x_labels[i], x_ranges[i]),
                                      (p.yaxis[0], y_ticks[i], y_tick_text[i], y_labels[i], y_ranges[i])):
        ax.ticker = FixedTicker(ticks=ticks, minor_ticks=minors(ticks, *rng))
        ax.major_label_overrides = dict(zip(ticks, labs))
        ax.axis_label = lab
        ax.axis_label_text_font = FONT
        ax.axis_label_text_font_size = "10px"
        ax.axis_label_text_font_style = "normal"
        ax.axis_label_text_color = "black"
        ax.major_label_text_font = FONT
        ax.major_label_text_font_size = "8px"
        ax.major_label_text_color = "#4D4D4D"
        ax.axis_line_color = None
        ax.major_tick_line_color = "#333333"
        ax.major_tick_in = 0
        ax.major_tick_out = 3
        ax.minor_tick_line_color = None
        ax.major_label_standoff = 1
        ax.axis_label_standoff = 2
    for g, ticks, rng in ((p.xgrid[0], x_ticks[i], x_ranges[i]), (p.ygrid[0], y_ticks[i], y_ranges[i])):
        g.ticker = FixedTicker(ticks=ticks, minor_ticks=minors(ticks, *rng))
        g.grid_line_color = "#EBEBEB"
        g.grid_line_width = 1
        g.minor_grid_line_color = "#F3F3F3"
        g.minor_grid_line_width = 0.6
    for pts, col in zip(panel_data[i], series_colors):
        p.scatter([a for a, _ in pts], [b for _, b in pts], size=5.5, marker="circle",
                  fill_color=col, fill_alpha=0.72, line_color=None)
    return p


panels = [make_panel(i) for i in range(8)]

lg = figure(width=818, height=20, output_backend="svg", toolbar_location=None,
            x_range=(0, 1), y_range=(0, 1), min_border=0, outline_line_color=None)
lg.axis.visible = False
lg.grid.visible = False
items = []
for nm, col in zip(series_names, series_colors):
    r = lg.scatter([-1], [-1], size=5.5, marker="circle", fill_color=col, fill_alpha=0.8, line_color=None)
    items.append(LegendItem(label=nm, renderers=[r]))
legend = Legend(items=items, orientation="horizontal", location=(319, 0),
                label_text_font=FONT, label_text_font_size="10px", border_line_color=None,
                background_fill_alpha=0, glyph_width=12, glyph_height=12, label_standoff=4, spacing=4,
                margin=0, padding=0)
lg.add_layout(legend, "center")
lg.add_layout(Label(x=282, y=2, x_units="screen", y_units="screen", text="dataset", text_font=FONT,
                    text_font_size="10px", text_color="black"))

root = column(row(*panels[:4], spacing=0), row(*panels[4:], spacing=0), lg, spacing=0)
open("out.html", "w").write(file_html(root, INLINE))
